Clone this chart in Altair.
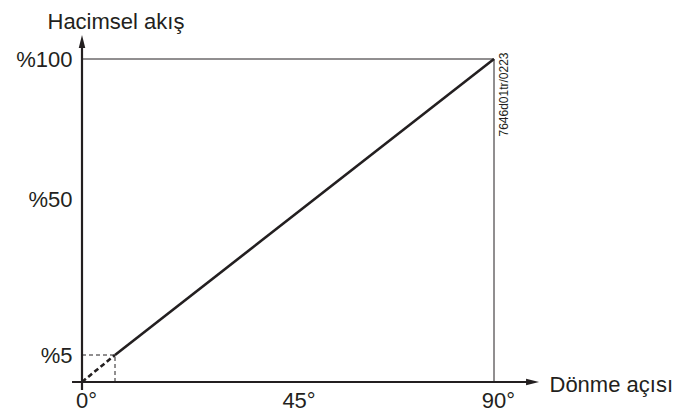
import altair as alt
import pandas as pd

# ---- data ----
angle_deg = [0, 4.5, 90]          # Dönme açısı (°)
flow_pct = [0, 5, 100]            # Hacimsel akış (%)
x_ticks = [0, 45, 90]
y_ticks = [5, 50, 100]
x_title = "Dönme açısı"
y_title = "Hacimsel akış"
code_text = "7646d01tr/0223"
x_axis_extent = [-1.36, 98.7]     # drawn x-axis line (° units, arrow end)
y_axis_extent = [-1.5, 106.25]    # drawn y-axis line (% units, arrow end)

INK = "#231f20"
FONT = "Liberation Sans"

# schematic (not-to-scale) piecewise scales, as in the reference drawing
xs = alt.Scale(domain=[0, 4.5, 90], range=[0, 33, 412], nice=False, zero=False)
ys = alt.Scale(domain=[0, 5, 50, 100], range=[323, 296, 140, 0], nice=False, zero=False)

curve = pd.DataFrame({"a": angle_deg, "f": flow_pct})
dashed_part = curve.iloc[:2]
solid_part = curve.iloc[1:]

x_axis = alt.Axis(values=x_ticks, labelExpr="datum.value + '°'", title=x_title,
                  domain=False, ticks=False, grid=False, labelPadding=8, labelOffset=4,
                  labelFontSize=22, labelFont=FONT, labelColor=INK, labelFlush=False,
                  titleFont=FONT, titleFontSize=22, titleFontWeight="normal", titleColor=INK,
                  titleAngle=0, titleAlign="left", titleBaseline="middle", titleX=467, titleY=2.5,
                  titleLimit=400)
y_axis = alt.Axis(values=y_ticks, labelExpr="'%' + datum.value", title=y_title,
                  domain=False, ticks=False, grid=False, labelPadding=10,
                  labelFontSize=22, labelFont=FONT, labelColor=INK, labelFlush=False,
                  titleFont=FONT, titleFontSize=22, titleFontWeight="normal", titleColor=INK,
                  titleAngle=0, titleAlign="left", titleBaseline="alphabetic", titleX=-35, titleY=-31,
                  titleLimit=400)

X = lambda f: alt.X(f, type="quantitative", scale=xs, axis=x_axis)
Y = lambda f: alt.Y(f, type="quantitative", scale=ys, axis=y_axis)

# frame (top and right lines)
corner = pd.DataFrame({"a0": [angle_deg[0]], "a1": [angle_deg[-1]], "f0": [flow_pct[0]], "f1": [flow_pct[-1]]})
frame_top = alt.Chart(corner).mark_rule(color=INK, strokeWidth=1, clip=False).encode(
    x=X("a0:Q"), x2="a1:Q", y=Y("f1:Q"))
frame_right = alt.Chart(corner).mark_rule(color=INK, strokeWidth=1, clip=False).encode(
    x=X("a1:Q"), y=Y("f0:Q"), y2="f1:Q")

# dashed helper box at the 5 % point
box = pd.DataFrame({"a0": [angle_deg[0]], "a1": [angle_deg[1]], "f0": [flow_pct[0]], "f1": [flow_pct[1]]})
box_h = alt.Chart(box).mark_rule(color=INK, strokeWidth=1, strokeDash=[4, 3], clip=False).encode(
    x=X("a0:Q"), x2="a1:Q", y=Y("f1:Q"))
box_v = alt.Chart(box).mark_rule(color=INK, strokeWidth=1, strokeDash=[4, 3], clip=False).encode(
    x=X("a1:Q"), y=Y("f0:Q"), y2="f1:Q")

# characteristic curve
line_dash = alt.Chart(dashed_part).mark_line(color=INK, strokeWidth=2.6, strokeDash=[5, 3], clip=False).encode(
    x=X("a:Q"), y=Y("f:Q"))
line_solid = alt.Chart(solid_part).mark_line(color=INK, strokeWidth=2.6, clip=False).encode(
    x=X("a:Q"), y=Y("f:Q"))

# axes with arrows
xa = pd.DataFrame({"a0": [x_axis_extent[0]], "a1": [x_axis_extent[1]], "f": [0]})
ya = pd.DataFrame({"a": [0], "f0": [y_axis_extent[0]], "f1": [y_axis_extent[1]]})
x_line = alt.Chart(xa).mark_rule(color=INK, strokeWidth=2.2, clip=False).encode(
    x=X("a0:Q"), x2="a1:Q", y=Y("f:Q"))
y_line = alt.Chart(ya).mark_rule(color=INK, strokeWidth=2.2, clip=False).encode(
    x=X("a:Q"), y=Y("f0:Q"), y2="f1:Q")
x_head = alt.Chart(pd.DataFrame({"a": [x_axis_extent[1]], "f": [0]})).mark_point(
    shape="M1,0L-1,-0.5L-1,0.5Z", filled=True, size=169, color=INK, opacity=1, clip=False).encode(
    x=X("a:Q"), y=Y("f:Q"))
y_head = alt.Chart(pd.DataFrame({"a": [0], "f": [y_axis_extent[1]]})).mark_point(
    shape="M0,-1L-0.5,1L0.5,1Z", filled=True, size=169, color=INK, opacity=1, clip=False).encode(
    x=X("a:Q"), y=Y("f:Q"))

code = alt.Chart(pd.DataFrame({"t": [code_text]})).mark_text(
    angle=270, fontSize=12, font=FONT, color=INK, align="center", baseline="middle").encode(
    text="t:N", x=alt.value(422), y=alt.value(35.5))

chart = alt.layer(
    frame_top, frame_right, box_h, box_v, line_dash, line_solid,
    x_line, y_line, x_head, y_head, code
).properties(
    width=412, height=323,
    autosize=alt.AutoSizeParams(type="none"),
    padding={"left": 74, "top": 51, "right": 184, "bottom": 30},
    background="white",
).configure_view(stroke=None)

chart.save("out.html", embed_options={"renderer": "svg", "actions": False})
